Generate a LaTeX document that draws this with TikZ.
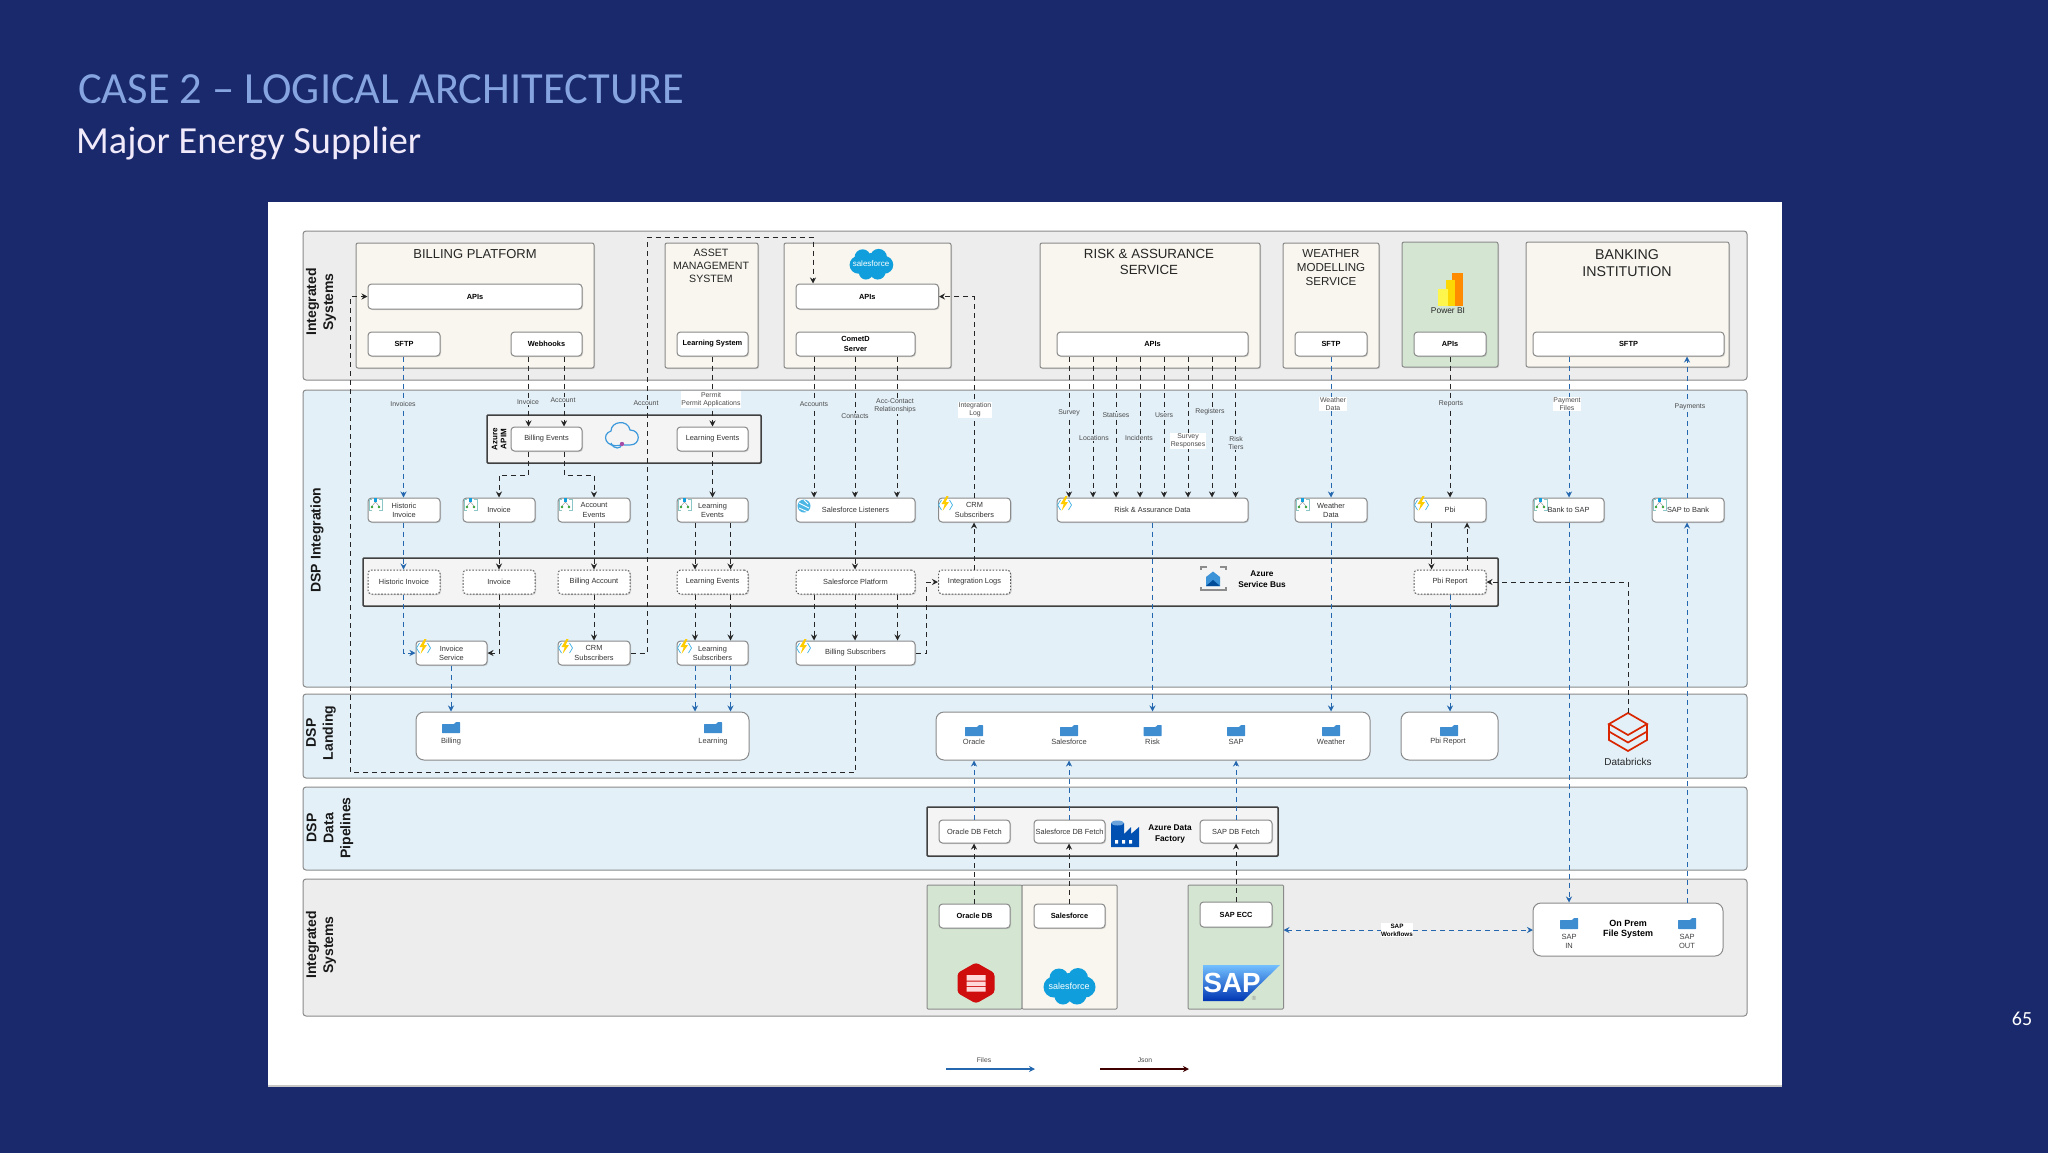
\documentclass[tikz,border=0pt]{standalone}
\usepackage{fontspec}
\setmainfont{Liberation Sans}
\newfontfamily\slidefont{Carlito}
\usetikzlibrary{arrows.meta,shadows}
\definecolor{slidebg}{HTML}{19296B}
\definecolor{titleblue}{HTML}{86A4E0}
\definecolor{subwhite}{HTML}{F1EAFB}
\definecolor{greyband}{HTML}{EDEDED}
\definecolor{blueband}{HTML}{E3F0F8}
\definecolor{creambox}{HTML}{F8F6EE}
\definecolor{greenbox}{HTML}{D4E6D2}
\definecolor{busfill}{HTML}{F4F4F4}
\definecolor{bordergrey}{HTML}{8A8A8A}
\definecolor{linedark}{HTML}{262626}
\definecolor{lineblue}{HTML}{2467AE}
\definecolor{folderblue}{HTML}{3E8DD0}
\definecolor{sfblue}{HTML}{109FDC}
\tikzset{
  band/.style={draw=bordergrey,line width=1pt,rounded corners=3pt,inner sep=0pt},
  gband/.style={band,fill=greyband},
  bband/.style={band,fill=blueband},
  sysbox/.style={draw=bordergrey,line width=1pt,rounded corners=2pt,fill=creambox,inner sep=0pt,
     drop shadow={shadow xshift=1pt,shadow yshift=-1pt,opacity=.25}},
  grnbox/.style={sysbox,fill=greenbox},
  plainsys/.style={draw=bordergrey,line width=1pt,rounded corners=1pt,inner sep=0pt},
  card/.style={draw=bordergrey,line width=1pt,rounded corners=3.5pt,fill=white,inner sep=0pt,align=center,
     font=\fontsize{7.4}{9.2}\selectfont,text=black!80,
     drop shadow={shadow xshift=1pt,shadow yshift=-1pt,opacity=.3}},
  bcard/.style={card,font=\fontsize{7.4}{9.2}\bfseries\selectfont,text=black,drop shadow={opacity=0}},
  dcard/.style={card,dash pattern=on 1.6pt off 1.6pt,draw=black!65},
  group/.style={draw=black!75,line width=1.5pt,fill=busfill,rounded corners=1pt,inner sep=0pt,
     drop shadow={shadow xshift=1pt,shadow yshift=-1pt,opacity=.25}},
  landing/.style={draw=bordergrey,line width=1pt,rounded corners=8pt,fill=white,inner sep=0pt},
  ttl/.style={align=center,inner sep=0pt,text=black!85},
  bandlab/.style={rotate=90,align=center,inner sep=0pt,font=\fontsize{14}{17}\bfseries\selectfont,text=black!90},
  elab/.style={align=center,inner sep=.6pt,font=\fontsize{6.9}{8.4}\selectfont,text=black!70,fill=blueband},
  elabw/.style={elab,fill=white},
  flab/.style={align=center,inner sep=0pt,font=\fontsize{7.5}{9}\selectfont,text=black!75},
  blab/.style={align=center,inner sep=0pt,font=\fontsize{8.3}{10.5}\bfseries\selectfont,text=black},
  jsonl/.style={draw=linedark,line width=1pt,dash pattern=on 5pt off 4pt,-{Stealth[length=6pt,width=6pt]}},
  filel/.style={jsonl,draw=lineblue,-{Stealth[length=6pt,width=6pt,fill=lineblue]}},
}
% style, name, x0, y0, x1, y1, text
\newcommand{\mkbox}[7]{\node[#1,minimum width={(#5-#3)*1pt},minimum height={(#6-#4)*1pt}] (#2) at ({(#3+#5)/2},{(#4+#6)/2}) {#7};}
% down connector: style, from, to, x
\newcommand{\dnc}[4]{\draw[#1] (#2.south -| #4,0) -- (#3.north -| #4,0);}
% up connector: style, from, to, x
\newcommand{\upc}[4]{\draw[#1] (#2.north -| #4,0) -- (#3.south -| #4,0);}
\newcommand{\mkfolder}[6]{%
  \fill[folderblue,rounded corners=.5pt] ({#2-9},{#3+2}) -- ({#2+3},{#3+2}) -- ({#2+5},{#3}) -- ({#2+9},{#3}) -- ({#2+9},{#3+11}) -- ({#2-9},{#3+11}) -- cycle;
  \node[flab] (#1) at (#5,#6) {#4};}
\newcommand{\logicicon}[2]{\begin{scope}[shift={(#1,#2)}]
  \draw[teal!45,line width=.7pt] (4,0) -- (1,0) -- (1,11) -- (4,11) (11,0) -- (14,0) -- (14,11) -- (11,11);
  \draw[black!45,line width=.4pt] (7.5,3) -- (4,7) (7.5,3) -- (11,7);
  \fill[sfblue] (6,-1) rectangle (9,3);
  \fill[green!55!black!80] (4,8) circle[radius=1.4] (11,8) circle[radius=1.4];
\end{scope}}
\newcommand{\funcicon}[2]{\begin{scope}[shift={(#1,#2)}]
  \draw[sfblue!80,line width=.7pt] (3.5,1) -- (.5,6) -- (3.5,11) (11.5,1) -- (14.5,6) -- (11.5,11);
  \fill[orange!40!yellow] (8.5,-3) -- (3.5,5) -- (6.8,5) -- (4.5,12) -- (11,3) -- (7.8,3) -- (10.5,-3) -- cycle;
\end{scope}}
\newcommand{\eventicon}[2]{\begin{scope}[shift={(#1,#2)}]
  \fill[sfblue!75] (8,7) circle[radius=6.5];
  \draw[white,line width=.9pt] (3,4) -- (13,9) (3,9) -- (12,13) (8,1) -- (12,5);
\end{scope}}
\newcommand{\sfcloud}[5]{\begin{scope}[shift={(#2,#3)},scale=#4]
  \fill[sfblue] (0,0) circle[radius=13] (-15,1) circle[radius=10.5] (-10,-8) circle[radius=9.5] (9,-8) circle[radius=10] (16,1) circle[radius=10.5] (8,9) circle[radius=9.5] (-6,10) circle[radius=8.5];
\end{scope}
\node[inner sep=0pt,text=white,font=\fontsize{#5}{#5}\selectfont] (#1) at (#2,#3) {salesforce};}
\begin{document}
\begin{tikzpicture}[x=1pt,y=-1pt]
\useasboundingbox (0,0) rectangle (2048,1152);
\fill[slidebg] (-6,-6) rectangle (2054,1158);
\node[anchor=base west,inner sep=0pt,text=titleblue,font=\slidefont\fontsize{44.5}{50}\selectfont] (slidetitle) at (78,103) {CASE 2 – LOGICAL ARCHITECTURE};
\node[anchor=base west,inner sep=0pt,text=subwhite,font=\slidefont\fontsize{38.3}{42}\selectfont] (slidesub) at (76,153) {Major Energy Supplier};
\node[inner sep=0pt,text=white,font=\slidefont\fontsize{20}{24}\selectfont] (pageno) at (2022,1019) {65};
\fill[white] (268,202) rectangle (1782,1087);
\fill[black!22] (268,1085) rectangle (1782,1087);
% bands
\mkbox{gband}{bandA}{303}{231}{1747}{380}{}
\mkbox{bband}{bandB}{303}{390}{1747}{687}{}
\mkbox{bband}{bandC}{303}{694}{1747}{778}{}
\mkbox{bband}{bandD}{303}{787}{1747}{870}{}
\mkbox{gband}{bandE}{303}{879}{1747}{1016}{}
\node[bandlab] (labA) at (321,302) {Integrated\\Systems};
\node[bandlab] (labB) at (317,540) {DSP Integration};
\node[bandlab] (labC) at (321,733) {DSP\\Landing};
\node[bandlab] (labD) at (330,828) {DSP\\Data\\Pipelines};
\node[bandlab] (labE) at (321,945) {Integrated\\Systems};
% system boxes
\mkbox{sysbox}{billing}{356}{243}{594}{368}{}
\mkbox{sysbox}{asset}{665}{243}{758}{368}{}
\mkbox{sysbox}{sfbox}{784}{243}{951}{368}{}
\mkbox{sysbox}{risk}{1040}{243}{1260}{368}{}
\mkbox{sysbox}{weather}{1283}{243}{1379}{368}{}
\mkbox{grnbox}{pbibox}{1402}{242}{1498}{367}{}
\mkbox{sysbox}{bank}{1526}{242}{1729}{367}{}
\node[ttl,font=\fontsize{13}{15}\selectfont] (tBilling) at (475,254) {BILLING PLATFORM};
\node[ttl,font=\fontsize{10.6}{13}\selectfont] (tAsset) at (711,266) {ASSET\\MANAGEMENT\\SYSTEM};
\node[ttl,font=\fontsize{13.3}{15.5}\selectfont] (tRisk) at (1149,262) {RISK \& ASSURANCE\\SERVICE};
\node[ttl,font=\fontsize{11.6}{14.3}\selectfont] (tWeather) at (1331,267.5) {WEATHER\\MODELLING\\SERVICE};
\node[ttl,font=\fontsize{14.2}{17}\selectfont] (tBank) at (1627,263) {BANKING\\INSTITUTION};
\sfcloud{sfTop}{871}{264}{.84}{8}
% power bi
\fill[orange!90!yellow] (1452,273) rectangle (1463,306);
\fill[yellow!75!orange] (1446,280) rectangle (1455,306);
\fill[yellow!70!white] (1438,289) rectangle (1448,306);
\node[ttl,font=\fontsize{8.4}{10}\selectfont] (tPbi) at (1448,311) {Power BI};
% top cards
\mkbox{bcard}{bapis}{368}{284}{582}{309}{APIs}
\mkbox{bcard}{bsftp}{368}{332}{440}{356}{SFTP}
\mkbox{bcard}{bhooks}{511}{332}{582}{356}{Webhooks}
\mkbox{bcard}{lsys}{677}{332}{748}{356}{Learning System}
\mkbox{bcard}{sfapis}{796}{284}{938.5}{309}{APIs}
\mkbox{bcard}{comet}{796}{332}{915}{356}{CometD\\Server}
\mkbox{bcard}{rapis}{1057}{332}{1248}{356}{APIs}
\mkbox{bcard}{wsftp}{1295}{332}{1367}{356}{SFTP}
\mkbox{bcard}{papis}{1414}{332}{1486}{356}{APIs}
\mkbox{bcard}{bksftp}{1533}{332}{1724}{356}{SFTP}
% APIM
\mkbox{group}{apim}{487}{415}{761}{463}{}
\node[rotate=90,align=center,inner sep=0pt,font=\fontsize{8}{9}\bfseries\selectfont] (apimlab) at (499,439) {Azure\\APIM};
\mkbox{card}{bev}{511}{427}{582}{451}{Billing Events}
\mkbox{card}{lev}{677}{427}{748}{451}{Learning Events}
\draw[cyan!70!blue!80,line width=1.2pt] (621,445) .. controls (605,449) and (601,434) .. (611,431) .. controls (611,421) and (628,419) .. (630,430) .. controls (641,430) and (641,445) .. (630,445) -- (624,445);
\draw[cyan!70!blue!80,line width=1.2pt] (622,444) .. controls (621,449) and (614,450) .. (611,443);
\fill[violet!70!white] (622,444) circle[radius=2.2];
% row 1
\mkbox{card}{r1hist}{368}{498}{440}{522}{Historic\\Invoice}
\mkbox{card}{r1inv}{463}{498}{535}{522}{Invoice}
\mkbox{card}{r1acc}{558}{498}{630}{522}{Account\\Events}
\mkbox{card}{r1lrn}{677}{498}{748}{522}{Learning\\Events}
\mkbox{card}{r1sf}{796}{498}{915}{522}{Salesforce Listeners}
\mkbox{card}{r1crm}{938.5}{498}{1010.5}{522}{CRM\\Subscribers}
\mkbox{card}{r1risk}{1057}{498}{1248}{522}{Risk \& Assurance Data}
\mkbox{card}{r1wth}{1295}{498}{1367}{522}{Weather\\Data}
\mkbox{card}{r1pbi}{1414}{498}{1486}{522}{Pbi}
\mkbox{card}{r1b2s}{1533}{498}{1604}{522}{Bank to SAP}
\mkbox{card}{r1s2b}{1652}{498}{1724}{522}{SAP to Bank}
\logicicon{368}{499}\logicicon{463}{499}\logicicon{558}{499}\logicicon{677}{499}
\eventicon{796}{499}
\funcicon{938}{499}\funcicon{1057}{499}
\logicicon{1295}{499}
\funcicon{1414}{499}
\logicicon{1533}{499}\logicicon{1652}{499}
% service bus
\mkbox{group}{sbus}{363}{558}{1498}{606}{}
\mkbox{dcard}{r2hist}{368}{570}{440}{594}{Historic Invoice}
\mkbox{dcard}{r2inv}{463}{570}{535}{594}{Invoice}
\mkbox{dcard}{r2acc}{558}{570}{630}{594}{Billing Account}
\mkbox{dcard}{r2lrn}{677}{570}{748}{594}{Learning Events}
\mkbox{dcard}{r2sf}{796}{570}{915}{594}{Salesforce Platform}
\mkbox{dcard}{r2int}{938.5}{570}{1010.5}{594}{Integration Logs}
\mkbox{dcard}{r2pbi}{1414}{570}{1486}{594}{Pbi Report}
\draw[black!45,line width=1.4pt] (1207,567) -- (1201,567) -- (1201,570) (1220,567) -- (1226,567) -- (1226,570) (1201,587) -- (1201,590) -- (1226,590) -- (1226,587);
\fill[cyan!65!blue!80] (1206,577) -- (1213,571.5) -- (1220,577) -- (1220,586) -- (1206,586) -- cycle;
\fill[blue!50!cyan!60!black] (1206,586) -- (1213,580) -- (1220,586) -- cycle;
\node[blab] (sbuslab) at (1262,579) {Azure\\Service Bus};
% row 3
\mkbox{card}{r3inv}{416}{641}{487}{665}{Invoice\\Service}
\mkbox{card}{r3crm}{558}{641}{630}{665}{CRM\\Subscribers}
\mkbox{card}{r3lrn}{677}{641}{748}{665}{Learning\\Subscribers}
\mkbox{card}{r3bil}{796}{641}{915}{665}{Billing Subscribers}
\funcicon{416}{642}\funcicon{558}{642}\funcicon{677}{642}\funcicon{796}{642}
% landing
\mkbox{landing}{land1}{416}{712}{749}{760}{}
\mkbox{landing}{land2}{936}{712}{1370}{760}{}
\mkbox{landing}{land3}{1401}{712}{1498}{760}{}
\mkfolder{fBilling}{451}{722}{Billing}{451}{742}
\mkfolder{fLearning}{713}{722}{Learning}{713}{742}
\mkfolder{fOracle}{974}{725}{Oracle}{974}{742}
\mkfolder{fSales}{1069}{725}{Salesforce}{1069}{742}
\mkfolder{fRisk}{1152.5}{725}{Risk}{1152.5}{742}
\mkfolder{fSAP}{1236}{725}{SAP}{1236}{742}
\mkfolder{fWeather}{1331}{725}{Weather}{1331}{742}
\mkfolder{fPbi}{1449}{725}{Pbi Report}{1448}{742}
% databricks
\node[minimum width=38pt,minimum height=38pt,inner sep=0pt] (dbx) at (1628,732) {};
\begin{scope}[draw=red!65!orange!85!black,line width=1.7pt,line join=miter]
\draw (1628,713) -- (1647,724) -- (1628,735) -- (1609,724) -- cycle;
\draw (1609,724) -- (1609,731.5) -- (1628,742.5) -- (1647,731.5) -- (1647,724);
\draw (1609,731.5) -- (1609,740) -- (1628,751) -- (1647,740) -- (1647,731.5);
\end{scope}
\node[ttl,font=\fontsize{10}{12}\selectfont] (dbxlab) at (1628,762) {Databricks};
% ADF
\mkbox{group}{adf}{927}{807}{1278}{856}{}
\mkbox{card}{ofetch}{939}{820}{1010}{843}{Oracle DB Fetch}
\mkbox{card}{sfetch}{1034}{820}{1105}{843}{Salesforce DB Fetch}
\mkbox{card}{sapfetch}{1200}{820}{1272}{843}{SAP DB Fetch}
\fill[blue!55!cyan!70!black] (1111,823) -- (1124,823) -- (1124,834) -- (1131,827) -- (1131,834) -- (1139,827) -- (1139,847) -- (1111,847) -- cycle;
\fill[cyan!60!blue!60] (1117.5,823) ellipse[x radius=6.5,y radius=2.5];
\fill[white] (1115,840) rectangle (1118,843.5) (1122,840) rectangle (1125,843.5) (1129,840) rectangle (1132,843.5);
\node[blab] (adflab) at (1170,834) {Azure Data\\Factory};
% bottom systems
\mkbox{plainsys,fill=greenbox}{orabox}{927}{885}{1022}{1009}{}
\mkbox{plainsys,fill=creambox}{salbox}{1022}{885}{1117}{1009}{}
\mkbox{plainsys,fill=greenbox}{sapbox}{1188}{885}{1283.5}{1009}{}
\mkbox{bcard}{oradb}{939}{904}{1010}{928}{Oracle DB}
\mkbox{bcard}{saldb}{1034}{904}{1105}{928}{Salesforce}
\mkbox{bcard}{sapecc}{1200}{902}{1272}{927}{SAP ECC}
\fill[red!80!black!95,rounded corners=3pt] (976,962.5) -- (994.5,973) -- (994.5,993) -- (976,1003.5) -- (957.5,993) -- (957.5,973) -- cycle;
\fill[white!85!red] (966.5,975) rectangle (985.5,980.5) (966.5,981.5) rectangle (985.5,986) (966.5,987) rectangle (985.5,991.5);
\sfcloud{sfBot}{1069}{986}{1}{9}
\shade[top color=cyan!55!blue!55,bottom color=blue!70!cyan!70!black] (1203,965) -- (1280,965) -- (1243,1001) -- (1203,1001) -- cycle;
\node[inner sep=0pt,text=white,font=\fontsize{27.7}{28}\bfseries\selectfont] (saplogo) at (1232,983) {SAP};
\node[inner sep=0pt,text=black!45,font=\fontsize{6}{6}\selectfont] (sapreg) at (1254,998) {®};
\mkbox{landing}{onprem}{1533}{903}{1723}{956}{}
\mkfolder{fIn}{1569}{918}{SAP\\IN}{1569}{941}
\mkfolder{fOut}{1687}{918}{SAP\\OUT}{1687}{941}
\node[blab,font=\fontsize{9}{10.5}\bfseries\selectfont] (onpremlab) at (1628,929.5) {On Prem\\File System};
% coordinates
\coordinate (e1) at (528.5,475); \coordinate (e2) at (499,475);
\coordinate (e3) at (564,475);   \coordinate (e4) at (594,475);
\coordinate (h1) at (403.5,653); \coordinate (i1) at (499,653);
\coordinate (c1) at (647,653);   \coordinate (c2) at (647,237); \coordinate (c3) at (813,237);
\coordinate (b1) at (855,772);   \coordinate (b2) at (350,772); \coordinate (b3) at (350,296.5);
\coordinate (s1) at (926.6,653); \coordinate (s2) at (926.6,582);
\coordinate (l1) at (974,296.5);
\coordinate (d1) at (1628,582);
\coordinate (w1) at (1283.5,930); \coordinate (w2) at (1533,930);
\coordinate (lf1) at (946,1069); \coordinate (lf2) at (1035,1069);
\coordinate (lj1) at (1100,1069); \coordinate (lj2) at (1189,1069);
% connectors
\dnc{filel}{bsftp}{r1hist}{403.5}
\dnc{jsonl}{bhooks}{bev}{528.5}
\dnc{jsonl}{bhooks}{bev}{564}
\draw[jsonl] (bev.south -| e1) -- (e1) -- (e2) -- (r1inv.north -| e2);
\draw[jsonl] (bev.south -| e3) -- (e3) -- (e4) -- (r1acc.north -| e4);
\dnc{jsonl}{lsys}{lev}{712.5}
\dnc{jsonl}{lev}{r1lrn}{712.5}
\dnc{jsonl}{comet}{r1sf}{814}
\dnc{jsonl}{comet}{r1sf}{855}
\dnc{jsonl}{comet}{r1sf}{897}
\foreach \xx in {1069,1093,1116,1140,1164,1188,1212,1235.5}{\dnc{jsonl}{rapis}{r1risk}{\xx}}
\dnc{filel}{wsftp}{r1wth}{1331}
\dnc{jsonl}{papis}{r1pbi}{1450}
\dnc{filel}{bksftp}{r1b2s}{1569}
\upc{filel}{r1s2b}{bksftp}{1687}
\dnc{filel}{r1hist}{r2hist}{403.5}
\dnc{jsonl}{r1inv}{r2inv}{499}
\dnc{jsonl}{r1acc}{r2acc}{594}
\dnc{jsonl}{r1lrn}{r2lrn}{695}
\dnc{jsonl}{r1lrn}{r2lrn}{730.5}
\dnc{jsonl}{r1sf}{r2sf}{855}
\upc{jsonl}{r2int}{r1crm}{974}
\dnc{jsonl}{r1pbi}{r2pbi}{1431.5}
\upc{jsonl}{r2pbi}{r1pbi}{1467}
\draw[filel] (r2hist.south -| h1) -- (h1) -- (r3inv.west |- h1);
\draw[jsonl] (r2inv.south -| i1) -- (i1) -- (r3inv.east |- i1);
\dnc{jsonl}{r2acc}{r3crm}{594}
\dnc{jsonl}{r2lrn}{r3lrn}{695}
\dnc{jsonl}{r2lrn}{r3lrn}{730.5}
\dnc{jsonl}{r2sf}{r3bil}{814}
\dnc{jsonl}{r2sf}{r3bil}{855}
\dnc{jsonl}{r2sf}{r3bil}{897.5}
\draw[jsonl] (r3crm.east |- c1) -- (c1) -- (c2) -- (c3) -- (sfapis.north -| c3);
\draw[jsonl] (r3bil.east |- s1) -- (s1) -- (s2) -- (r2int.west |- s2);
\draw[jsonl] (r1crm.north -| l1) -- (l1) -- (sfapis.east |- l1);
\draw[jsonl] (r3bil.south -| b1) -- (b1) -- (b2) -- (b3) -- (bapis.west |- b3);
\dnc{filel}{r3inv}{land1}{451}
\dnc{filel}{r3lrn}{land1}{695}
\dnc{filel}{r3lrn}{land1}{730.5}
\dnc{filel}{r1risk}{land2}{1152.5}
\dnc{filel}{r1wth}{land2}{1331}
\dnc{filel}{r2pbi}{land3}{1450}
\draw[jsonl] (dbx.north) -- (d1) -- (r2pbi.east |- d1);
\dnc{filel}{r1b2s}{onprem}{1569}
\upc{filel}{onprem}{r1s2b}{1687}
\upc{filel}{ofetch}{land2}{974}
\upc{filel}{sfetch}{land2}{1069}
\upc{filel}{sapfetch}{land2}{1236}
\upc{jsonl}{oradb}{ofetch}{974}
\upc{jsonl}{saldb}{sfetch}{1069}
\upc{jsonl}{sapecc}{sapfetch}{1236}
\draw[filel,{Stealth[length=6pt,width=6pt,fill=lineblue]}-{Stealth[length=6pt,width=6pt,fill=lineblue]}] (w1) -- (w2);
\draw[draw=lineblue,line width=1.2pt,-{Stealth[length=6pt,width=6pt,fill=lineblue]}] (lf1) -- (lf2);
\draw[draw=black!75!red,line width=1.2pt,-{Stealth[length=6pt,width=6pt,fill=black]}] (lj1) -- (lj2);
% connector labels
\node[elab] (tInvoices) at (403,404) {Invoices};
\node[elab] (tInvoice) at (528,402) {Invoice};
\node[elab] (tAccount) at (563,400) {Account};
\node[elab] (tAccount2) at (646,403) {Account};
\node[elabw] (tPermit) at (711,399.5) {Permit\\Permit Applications};
\node[elab] (tAccounts) at (814,404) {Accounts};
\node[elab] (tContacts) at (855,416) {Contacts};
\node[elab] (tAcc) at (895,406) {Acc-Contact\\Relationships};
\node[elabw] (tIntLog) at (975,410) {Integration\\Log};
\node[elab] (tSurvey) at (1069,413) {Survey};
\node[elab] (tLoc) at (1094,438) {Locations};
\node[elab] (tStat) at (1116,415) {Statuses};
\node[elab] (tInc) at (1139,438) {Incidents};
\node[elab] (tUsers) at (1164,415) {Users};
\node[elabw] (tResp) at (1188,441) {Survey\\Responses};
\node[elab] (tReg) at (1210,412) {Registers};
\node[elab] (tTiers) at (1236,443) {Risk\\Tiers};
\node[elabw] (tWData) at (1333,404) {Weather\\Data};
\node[elab] (tReports) at (1451,404) {Reports};
\node[elabw] (tPay) at (1567,404) {Payment\\Files};
\node[elab] (tPays) at (1690,407) {Payments};
\node[elabw,font=\fontsize{6.3}{8.2}\bfseries\selectfont,text=black] (tWork) at (1397,930) {SAP\\Workflows};
\node[elabw,text=black!70,font=\fontsize{6.8}{8}\selectfont] (tFiles) at (984,1060) {Files};
\node[elabw,text=black!70,font=\fontsize{6.8}{8}\selectfont] (tJson) at (1145,1060) {Json};
\end{tikzpicture}
\end{document}
